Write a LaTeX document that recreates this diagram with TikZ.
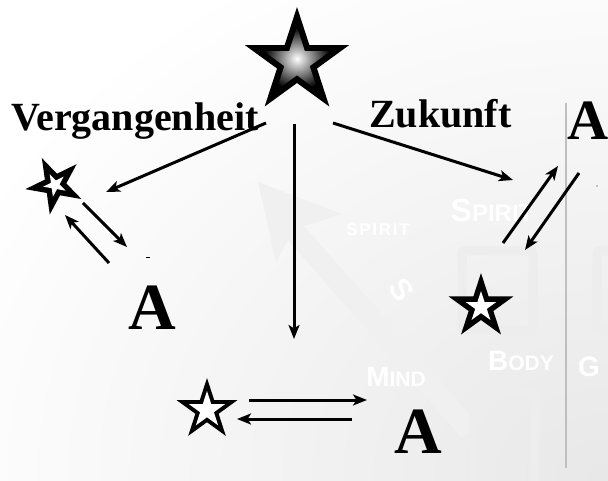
\documentclass[tikz,border=0pt]{standalone}
\usepackage{fontspec}
\setmainfont{Liberation Serif}
\setsansfont{Liberation Sans}
\usetikzlibrary{shapes.geometric,arrows.meta}

\tikzset{
  pfeil/.style={line width=3pt,-{Stealth[length=14pt,width=11pt,inset=3.5pt]}},
  titel/.style={font=\fontsize{40}{42}\selectfont\bfseries,inner sep=0pt},
  buchst/.style={font=\fontsize{66}{66}\selectfont\bfseries,inner sep=0pt},
  sternform/.style={star,star points=5,star point ratio=2.618,inner sep=0pt,outer sep=0pt},
  stern/.style={sternform,fill=black,minimum size=#1},
  loch/.style={sternform,fill=white,minimum size=#1},
  marke/.style={white,font=\sffamily\bfseries,inner sep=0pt},
}

\begin{document}
\begin{tikzpicture}[x=1pt,y=-1pt]
\useasboundingbox (0,0) rectangle (608,481);
\clip (0,0) rectangle (608,481);

% blasser Hintergrund
\shade[inner color=black!9,outer color=white] (-100,-100) rectangle (1300,1050);
\fill[black!6] (258,182) -- (342,214) -- (304,226) -- (478,424) -- (462,438) -- (288,240) -- (276,262) -- cycle;
\draw[black!7,line width=9pt,rounded corners=3pt] (462,251) rectangle (533,330);
\draw[black!7,line width=9pt,rounded corners=3pt] (597,251) rectangle (650,330);
\draw[black!7,line width=9pt,rounded corners=3pt] (474,392) rectangle (535,500);
\draw[black!25,line width=1.2pt] (566,103) -- (566,468);
\node[marke,font=\sffamily\bfseries\fontsize{32}{32}\selectfont] (w1) at (492,210) {S\fontsize{24}{24}\selectfont PIRIT};
\node[marke,font=\sffamily\bfseries\fontsize{17}{17}\selectfont\addfontfeature{LetterSpace=10}] (w2) at (378,230) {SPIRIT};
\node[marke,font=\sffamily\bfseries\fontsize{30}{30}\selectfont,rotate=-55] (w3) at (402,290) {S};
\node[marke,font=\sffamily\bfseries\fontsize{28}{28}\selectfont] (w4) at (396,377) {M\fontsize{21}{21}\selectfont IND};
\node[marke,font=\sffamily\bfseries\fontsize{28}{28}\selectfont] (w5) at (521,361) {B\fontsize{21}{21}\selectfont ODY};
\node[marke,font=\sffamily\bfseries\fontsize{28}{28}\selectfont,anchor=west] (w6) at (578,367) {G};

% Sterne
\node[stern=110] (oben) at (297,62) {};
\node[sternform,minimum size=70,shading=radial,inner color=white,outer color=black] at (oben) {};
\node[stern=60,rotate=26] (links) at (55,185) {};
\node[loch=24,rotate=26] at (links) {};
\node[stern=68] (rechts) at (481,307) {};
\node[loch=32] at (rechts) {};
\node[stern=64] (unten) at (207,410) {};
\node[loch=38] at (unten) {};

% Texte
\node[titel,anchor=base west] (verg) at (11,131) {Vergangenheit};
\node[titel,anchor=base west] (zuk) at (369,128) {Zukunft};
\node[buchst,anchor=base] (al) at (152,329) {A};
\node[buchst,anchor=base] (au) at (418,453) {A};
\node[buchst,font=\fontsize{57}{57}\selectfont\bfseries,anchor=base] (ar) at (588,140) {A};
\coordinate (jetzt) at (294,339);

% Pfeile
\draw[pfeil] ([shift={(-31,61)}]oben.center) -- ([shift={(51,7)}]links.center);
\draw[pfeil] ([shift={(-3,62)}]oben.center) -- (jetzt);
\draw[pfeil] ([shift={(36,61)}]oben.center) -- ([shift={(32,-127)}]rechts.center);
\draw[pfeil] ([shift={(28,18)}]links.center) -- ([shift={(-25,-82)}]al.base);
\draw[pfeil] ([shift={(-43,-66)}]al.base) -- ([shift={(10,30)}]links.center);
\draw[pfeil] ([shift={(22,-64)}]rechts.center) -- ([shift={(-30,26)}]ar.base);
\draw[pfeil] ([shift={(-9,33)}]ar.base) -- ([shift={(44,-57)}]rechts.center);
\draw[pfeil] ([shift={(42,-10)}]unten.center) -- ([shift={(-51,-53)}]au.base);
\draw[pfeil] ([shift={(-66,-34)}]au.base) -- ([shift={(30,9)}]unten.center);
\draw[line width=1pt] (146,258) -- (150,258);
\fill[black!45] (597,186) circle (0.8);
\end{tikzpicture}
\end{document}
